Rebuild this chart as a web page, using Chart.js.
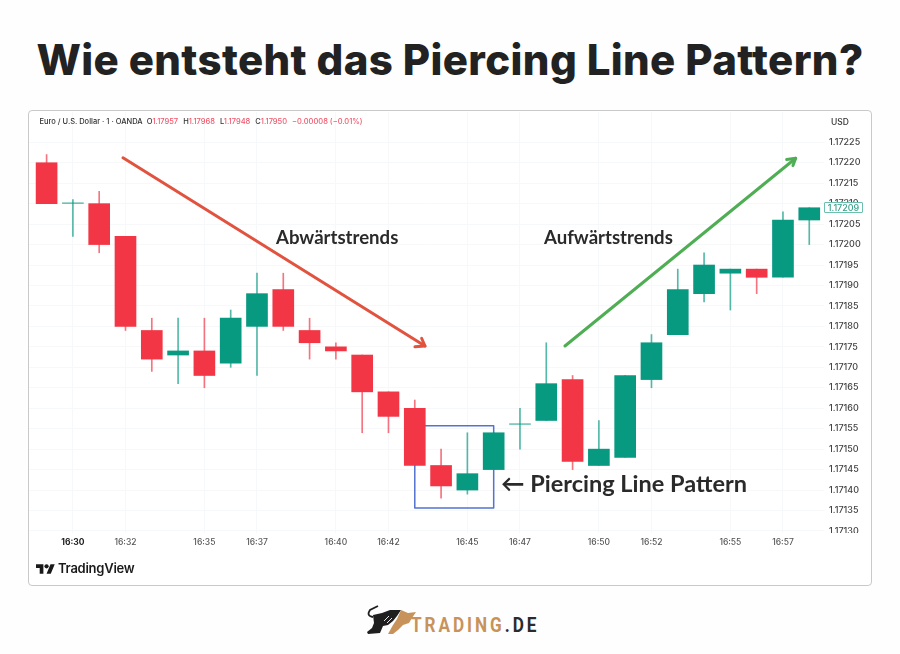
<!DOCTYPE html>
<html lang="de">
<head>
<meta charset="utf-8">
<title>Wie entsteht das Piercing Line Pattern?</title>
<script src="https://cdn.jsdelivr.net/npm/chart.js@4"></script>
<style>
  html, body { margin: 0; padding: 0; background: #fff; }
  #stage { position: relative; width: 900px; height: 654px; overflow: hidden; background: #fefefe; filter: blur(0.3px); }
  #stage > * { position: absolute; }
  h1 { margin: 0; left: 0; width: 900px; top: 30px; text-align: center; font: 800 42px/60px Inter, sans-serif; letter-spacing: 0.37px; color: #222; white-space: nowrap; }
  #card { left: 28px; top: 110px; width: 842px; height: 474px; border: 1px solid #c9c9c9; border-radius: 4px; background: #fff; }
  #priceChart { left: 29px; top: 111.5px; }
  #legendLine { left: 39.5px; top: 115px; font: 500 7.5px/13px Inter, sans-serif; color: #333; white-space: nowrap; }
  #legendLine b { font-weight: 500; color: #f2576b; margin-right: 5px; }
  #usd { left: 831px; top: 116px; font: 500 8.5px/13px Inter, sans-serif; color: #333; }
  #lastPrice { left: 824px; top: 202px; width: 37px; height: 9px; border: 1px solid #6dbfae; border-radius: 1px; background: #fff; font: 500 9px/9px Inter, sans-serif; color: #3aa18d; text-align: center; }
  #tickCover { left: 824px; top: 533px; width: 46px; height: 6px; background: #fff; }
  .note { font: 700 18.6px/24px Lato, sans-serif; color: #2a2a2a; white-space: nowrap; }
  #noteDown { left: 276px; top: 225px; }
  #noteUp { left: 544px; top: 225px; }
  #notePattern { left: 501px; top: 469px; font-size: 23.5px; line-height: 28px; }
  #tvLogo { left: 36px; top: 562px; width: 19px; height: 15px; }
  #tvText { left: 58px; top: 559px; font: 600 13px/18px Inter, sans-serif; letter-spacing: -0.25px; color: #1a1a1a; }
  #bull { left: 360px; top: 600px; width: 70px; height: 45px; }
  #brand { left: 411px; top: 613px; font: 700 19.5px/26px Roboto, sans-serif; letter-spacing: 3.35px; color: #c8935a; white-space: nowrap; transform: scaleX(0.88); transform-origin: left center; }
  #brand span { color: #2b2b2b; }
</style>
</head>
<body>
<div id="stage">
  <h1>Wie entsteht das Piercing Line Pattern?</h1>
  <div id="card"></div>
  <canvas id="priceChart" width="842" height="474"></canvas>
  <div id="legendLine">Euro / U.S. Dollar · 1 · OANDA &nbsp;O<b>1.17957</b>H<b>1.17968</b>L<b>1.17948</b>C<b>1.17950</b><b>−0.00008 (−0.01%)</b></div>
  <div id="usd">USD</div>
  <div id="lastPrice">1.17209</div>
  <div id="tickCover"></div>
  <div class="note" id="noteDown">Abwärtstrends</div>
  <div class="note" id="noteUp">Aufwärtstrends</div>
  <div class="note" id="notePattern">← Piercing Line Pattern</div>
  <svg id="tvLogo" viewBox="0 0 36 28"><path fill="#1a1a1a" d="M14 22H7V11H0V4h14v18zM28 22h-8l7.5-18h8L28 22z"/><circle fill="#1a1a1a" cx="20" cy="8" r="4"/></svg>
  <div id="tvText">TradingView</div>
  <svg id="bull" viewBox="0 0 70 45">
    <path fill="none" stroke="#1f1f1f" stroke-width="1.8" d="M18 6 L10 10 Q6 16 13 17"/>
    <path fill="#1f1f1f" d="M13 15 L22 13 L30 10 L41 10 L37 16 L33 21 L28 25 L23 26 L20 33 L8 34 L7 32 L12 28 L14 23 Z"/>
    <path fill="none" stroke="#fefefe" stroke-width="0.9" d="M24 21 L29 16 M27 23 L32 18"/>
    <path fill="#c8935a" d="M41 10 L48 13 L56 12 L52 18 L49 23 L43 25 L38 30 L33 34 L28 34 L33 25 L37 19 Z"/>
  </svg>
  <div id="brand">TRADING<span>.DE</span></div>
</div>

<script>
/* ── Chart data ────────────────────────────────────────── */
const minutes = [29, 30, 31, 32, 33, 34, 35, 36, 37, 38, 39, 40, 41, 42, 43,
                 44, 45, 46, 47, 48, 49, 50, 51, 52, 53, 54, 55, 56, 57, 58];

const opens  = [1.17220, 1.17210, 1.17210, 1.17202, 1.17179, 1.17173, 1.17174, 1.17171, 1.17180, 1.17189,
                1.17179, 1.17175, 1.17173, 1.17164, 1.17160, 1.17146, 1.17140, 1.17145, 1.17156, 1.17157,
                1.17167, 1.17146, 1.17148, 1.17167, 1.17178, 1.17188, 1.17193, 1.17194, 1.17192, 1.17206];
const highs  = [1.17222, 1.17211, 1.17213, 1.17202, 1.17182, 1.17182, 1.17182, 1.17184, 1.17193, 1.17193,
                1.17182, 1.17176, 1.17173, 1.17164, 1.17162, 1.17150, 1.17154, 1.17154, 1.17160, 1.17176,
                1.17168, 1.17157, 1.17168, 1.17178, 1.17194, 1.17198, 1.17194, 1.17194, 1.17208, 1.17209];
const lows   = [1.17210, 1.17202, 1.17198, 1.17179, 1.17169, 1.17166, 1.17165, 1.17170, 1.17168, 1.17179,
                1.17172, 1.17172, 1.17154, 1.17154, 1.17146, 1.17138, 1.17139, 1.17145, 1.17150, 1.17157,
                1.17145, 1.17146, 1.17148, 1.17165, 1.17178, 1.17186, 1.17184, 1.17188, 1.17192, 1.17200];
const closes = [1.17210, 1.17210, 1.17200, 1.17180, 1.17172, 1.17174, 1.17168, 1.17182, 1.17188, 1.17180,
                1.17176, 1.17174, 1.17164, 1.17158, 1.17146, 1.17141, 1.17144, 1.17154, 1.17156, 1.17166,
                1.17147, 1.17150, 1.17168, 1.17176, 1.17189, 1.17195, 1.17194, 1.17192, 1.17206, 1.17209];

const priceTicks = [1.17130, 1.17135, 1.17140, 1.17145, 1.17150, 1.17155, 1.17160, 1.17165, 1.17170, 1.17175,
                    1.17180, 1.17185, 1.17190, 1.17195, 1.17200, 1.17205, 1.17210, 1.17215, 1.17220, 1.17225];
const timeTicks  = [30, 32, 35, 37, 40, 42, 45, 47, 50, 52, 55, 57];

// Trend arrows and pattern box, in minute / price terms
const downTrendX = [31.905, 43.388];
const downTrendY = [1.172212, 1.171752];
const downHeadX  = [43.26, 43.388, 43.007];
const downHeadY  = [1.171771, 1.171752, 1.171750];
const upTrendX   = [48.71, 57.483];
const upTrendY   = [1.171752, 1.172211];
const upHeadX    = [57.14, 57.483, 57.38];
const upHeadY    = [1.172208, 1.172211, 1.172193];
const boxX       = [43, 46, 46, 43, 43];
const boxY       = [1.171557, 1.171557, 1.171356, 1.171356, 1.171557];

/* ── Colours ───────────────────────────────────────────── */
const RED   = "#f23645";
const GREEN = "#089981";
const GRID  = "#f7f8f9";
const candleColors = opens.map((o, i) => (closes[i] >= o ? GREEN : RED));
// Dojis are only a hairline, so they get the same pale tone as the wicks
const bodyColors = candleColors.map((c, i) => (opens[i] === closes[i] ? c + "90" : c));

function toPoints(xs, ys) {
  return xs.map((x, i) => ({ x, y: ys[i] }));
}

function lineSet(xs, ys, color, width, order) {
  return {
    type: "line",
    data: toPoints(xs, ys),
    borderColor: color,
    borderWidth: width,
    pointRadius: 0,
    borderCapStyle: "round",
    borderJoinStyle: "round",
    tension: 0,
    fill: false,
    order,
  };
}

// Axis sizes are fixed so the plot area lines up with the card
function fixAxis(scale, size) {
  if (scale.isHorizontal()) scale.height = size;
  else scale.width = size;
  scale.paddingTop = scale.paddingBottom = scale.paddingLeft = scale.paddingRight = 0;
}

/* ── Chart ─────────────────────────────────────────────── */
new Chart(document.getElementById("priceChart"), {
  type: "bar",
  data: {
    datasets: [
      lineSet(boxX, boxY, "#5273cf", 1.5, 4),
      {
        // wicks
        data: minutes.map((m, i) => ({ x: m, y: [lows[i], highs[i]] })),
        backgroundColor: candleColors.map(c => c + "b0"),
        barThickness: 1,
        grouped: false,
        order: 3,
      },
      {
        // bodies
        data: minutes.map((m, i) => ({ x: m, y: [opens[i], closes[i]] })),
        backgroundColor: bodyColors,
        barThickness: 21,
        minBarLength: 1,
        grouped: false,
        order: 2,
      },
      lineSet(downTrendX, downTrendY, "#e2533f", 3, 1),
      lineSet(downHeadX, downHeadY, "#e2533f", 3, 1),
      lineSet(upTrendX, upTrendY, "#4fae54", 3, 1),
      lineSet(upHeadX, upHeadY, "#4fae54", 3, 1),
    ],
  },
  options: {
    responsive: false,
    animation: false,
    layout: { padding: 0 },
    plugins: { legend: { display: false }, tooltip: { enabled: false } },
    scales: {
      x: {
        type: "linear",
        offset: false,
        min: 28.331,
        max: 58.56,
        afterBuildTicks: scale => { scale.ticks = timeTicks.map(value => ({ value })); },
        afterFit: scale => fixAxis(scale, 53),
        border: { display: false },
        grid: { color: GRID, drawTicks: false, offset: false },
        ticks: {
          padding: 4,
          maxRotation: 0,
          autoSkip: false,
          color: ctx => (ctx.tick?.value === 30 ? "#222" : "#555"),
          font: ctx => ({ family: "Inter", size: 8.5, weight: ctx.tick?.value === 30 ? "700" : "500" }),
          callback: value => `16:${value}`,
        },
      },
      y: {
        position: "right",
        min: 1.171295,
        max: 1.172324,
        afterBuildTicks: scale => { scale.ticks = priceTicks.map(value => ({ value })); },
        afterFit: scale => fixAxis(scale, 47),
        border: { display: false },
        grid: { color: GRID, drawTicks: false },
        ticks: {
          padding: 5,
          color: "#444",
          font: { family: "Inter", size: 9, weight: "500" },
          callback: value => value.toFixed(5),
        },
      },
    },
  },
});
</script>
</body>
</html>
